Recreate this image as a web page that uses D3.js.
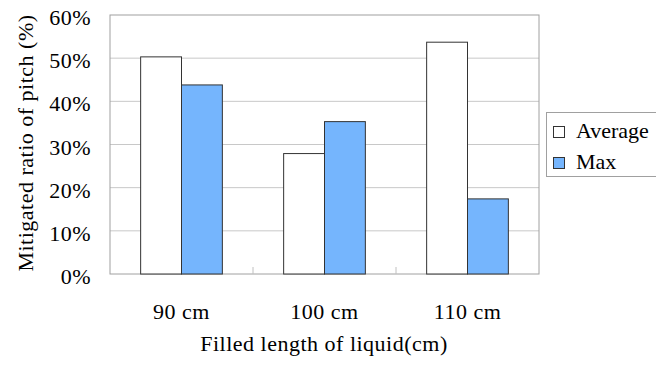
<html>
<head>
<meta charset="utf-8">
<script src="https://d3js.org/d3.v7.min.js"></script>
</head>
<body style="margin:0">
<script>
// data
var categories = ["90 cm", "100 cm", "110 cm"]
var seriesNames = ["Average", "Max"]
var averageVals = [50.3, 27.9, 53.7]
var maxVals = [43.8, 35.3, 17.4]
var yTicks = [0, 10, 20, 30, 40, 50, 60]

var colors = { "Average": "#ffffff", "Max": "#75b5fd" }
var serif = "'Liberation Serif'"

var W = 656, H = 368
var m = { left: 110, right: 117, top: 15, bottom: 94 }

var svg = d3.select("body").append("svg")
    .attr("width", W)
    .attr("height", H)

var x0 = d3.scaleBand()
    .domain(categories)
    .range([m.left, W - m.right])
    .paddingInner(0.4286)
    .paddingOuter(0.2143)

var x1 = d3.scaleBand()
    .domain(seriesNames)
    .range([0, x0.bandwidth()])

var y = d3.scaleLinear()
    .domain([0, 60])
    .range([H - m.bottom, m.top])

// helper for the serif labels
function label(sel) {
  return sel.style("font-family", serif)
    .style("font-size", "22px")
    .style("letter-spacing", "0.5px")
}

// gridlines
svg.append("g")
  .selectAll("line")
  .data(yTicks.slice(1, -1))
  .enter().append("line")
    .attr("x1", m.left).attr("x2", W - m.right)
    .attr("y1", function(d) { return y(d) }).attr("y2", function(d) { return y(d) })
    .attr("stroke", "#c8c8c8").attr("stroke-width", 1)

// plot frame
svg.append("rect")
    .attr("x", m.left).attr("y", y(60))
    .attr("width", W - m.right - m.left).attr("height", y(0) - y(60))
    .attr("fill", "none").attr("stroke", "#a0a0a0").attr("stroke-width", 1)

// category boundary ticks
var step = x0.step()
svg.append("g")
  .selectAll("line")
  .data(categories.slice(1))
  .enter().append("line")
    .attr("x1", function(d) { return x0(d) - step * 0.4286 / 2 })
    .attr("x2", function(d) { return x0(d) - step * 0.4286 / 2 })
    .attr("y1", y(0)).attr("y2", y(0) - 7)
    .attr("stroke", "#c0c0c0")

// bars
var rows = categories.map(function(c, i) {
  return { cat: c, vals: [
    { key: "Average", value: averageVals[i] },
    { key: "Max", value: maxVals[i] } ] }
})

svg.append("g")
  .selectAll("g")
  .data(rows)
  .enter().append("g")
    .attr("transform", function(d) { return "translate(" + x0(d.cat) + ",0)" })
  .selectAll("rect")
  .data(function(d) { return d.vals })
  .enter().append("rect")
    .attr("x", function(d) { return x1(d.key) })
    .attr("y", function(d) { return y(d.value) })
    .attr("width", x1.bandwidth())
    .attr("height", function(d) { return y(0) - y(d.value) })
    .attr("fill", function(d) { return colors[d.key] })
    .attr("stroke", "#333")
    .attr("stroke-width", 1)

// y tick labels
svg.append("g")
  .selectAll("text")
  .data(yTicks)
  .enter().append("text")
    .attr("x", 91)
    .attr("y", function(d) { return y(d) + 10 })
    .attr("text-anchor", "end")
    .call(label)
    .text(function(d) { return d + "%" })

// category labels
svg.append("g")
  .selectAll("text")
  .data(categories)
  .enter().append("text")
    .attr("x", function(d) { return x0(d) + x0.bandwidth() / 2 })
    .attr("y", 319)
    .attr("text-anchor", "middle")
    .call(label)
    .text(function(d) { return d })

// axis titles
svg.append("text")
    .attr("x", 324)
    .attr("y", 351)
    .attr("text-anchor", "middle")
    .call(label)
    .text("Filled length of liquid(cm)")

svg.append("text")
    .attr("transform", "translate(33,143) rotate(-90)")
    .attr("text-anchor", "middle")
    .call(label)
    .text("Mitigated ratio of pitch (%)")

// legend
var leg = svg.append("g")
leg.append("rect")
    .attr("x", 546.5).attr("y", 112.5)
    .attr("width", 120).attr("height", 64)
    .attr("fill", "#fff").attr("stroke", "#a0a0a0")

leg.selectAll("g")
  .data(seriesNames)
  .enter().append("g")
    .attr("transform", function(d, i) { return "translate(553," + (126 + i * 31) + ")" })
    .each(function(d) {
      var g = d3.select(this)
      g.append("rect")
        .attr("x", 0.5).attr("y", 0.5)
        .attr("width", 11).attr("height", 11)
        .attr("fill", colors[d]).attr("stroke", "#333")
      g.append("text")
        .attr("x", 23).attr("y", 12)
        .call(label)
        .style("letter-spacing", "0px")
        .text(d)
    })
</script>
</body>
</html>
